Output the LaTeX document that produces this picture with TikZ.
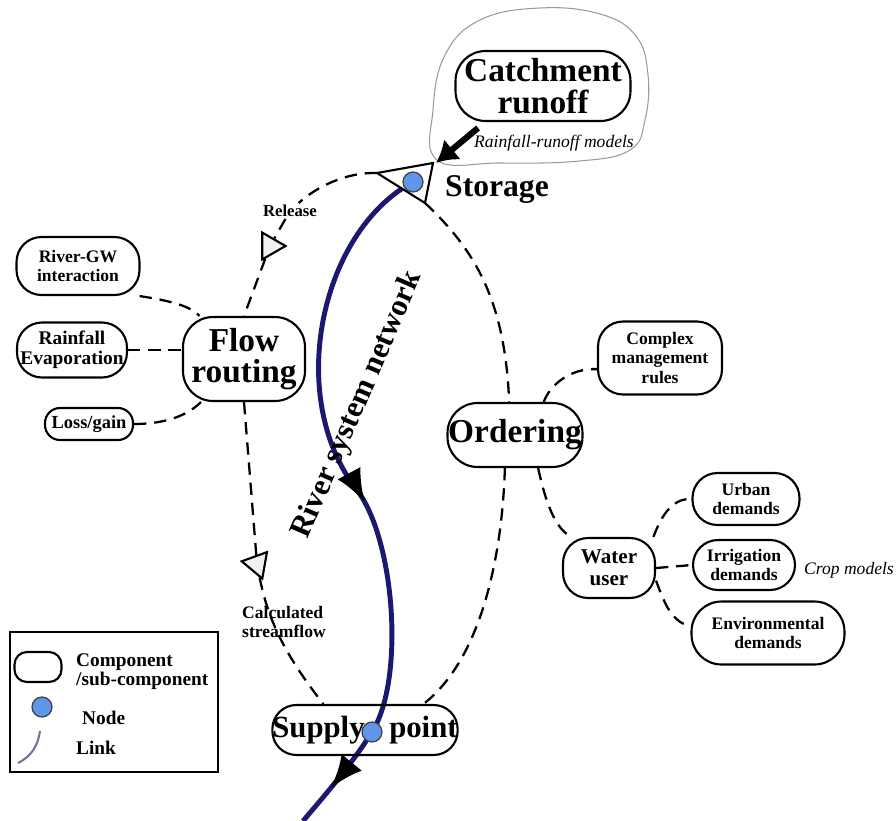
\documentclass[tikz,border=0pt]{standalone}
\usepackage{fontspec}
\setmainfont{Liberation Serif}
\usepackage{tikz}
\usetikzlibrary{arrows.meta, shapes.geometric, decorations.markings, backgrounds}
\definecolor{rivernavy}{RGB}{28,24,112}
\definecolor{nodeblue}{RGB}{96,150,232}
\definecolor{linkgray}{RGB}{120,112,160}
\definecolor{balloongray}{RGB}{155,155,155}

\begin{document}
\begin{tikzpicture}[x=0.02cm, y=-0.02cm,
    comp/.style={draw, line width=1.2pt, rounded corners=0.5cm, align=center, inner sep=0pt},
    bigtext/.style={font=\bfseries\fontsize{19}{18}\selectfont},
    smalltext/.style={font=\bfseries\fontsize{10}{11.3}\selectfont},
    dlink/.style={line width=1.3pt, dash pattern=on 7pt off 4.5pt},
    bluenode/.style={circle, fill=nodeblue, draw=black!75, line width=0.7pt, minimum size=0.4cm, inner sep=0pt},
    valve/.style={regular polygon, regular polygon sides=3, draw, fill=gray!12, line width=1.2pt, minimum size=0.62cm, inner sep=0pt},
    river/.style={draw=rivernavy, line width=2.8pt, postaction={decorate},
        decoration={markings,
            mark=at position 0.51 with {\arrow{Latex[length=19pt,width=15pt,black]}},
            mark=at position 0.94 with {\arrow{Latex[length=19pt,width=15pt,black]}}}}]
    \useasboundingbox (0,0) rectangle (896,821);

    % Components
    \node[comp, bigtext, minimum width=3.5cm, minimum height=1.4cm, rounded corners=0.6cm] (catch) at (543,86) {Catchment\\runoff};
    \node[comp, bigtext, minimum width=2.44cm, minimum height=1.68cm, rounded corners=0.6cm] (flow) at (244,359) {Flow\\routing};
    \node[comp, bigtext, minimum width=2.7cm, minimum height=1.28cm, rounded corners=0.6cm] (ord) at (515,435) {Ordering};
    \node[comp, font=\bfseries\fontsize{17.5}{18}\selectfont, minimum width=3.6cm, minimum height=1.0cm, rounded corners=0.48cm] (sup) at (365,730) {Supply\hspace{14pt}point};

    % Sub-components
    \node[comp, smalltext, minimum width=2.46cm, minimum height=1.16cm] (rgw) at (78,266) {River-GW\\interaction};
    \node[comp, font=\bfseries\fontsize{11}{11.5}\selectfont, minimum width=2.2cm, minimum height=1.1cm] (rain) at (72,350) {Rainfall\\Evaporation};
    \node[comp, font=\bfseries\fontsize{10.5}{11}\selectfont, minimum width=1.76cm, minimum height=0.64cm, rounded corners=0.3cm] (loss) at (89,424) {Loss/gain};
    \node[comp, smalltext, minimum width=2.48cm, minimum height=1.46cm] (cmr) at (660,358) {Complex\\management\\rules};
    \node[comp, font=\bfseries\fontsize{12}{12.3}\selectfont, minimum width=1.84cm, minimum height=1.2cm] (wu) at (609,568) {Water\\user};
    \node[comp, smalltext, minimum width=2.14cm, minimum height=1.04cm] (urb) at (746,499) {Urban\\demands};
    \node[comp, smalltext, minimum width=2.04cm, minimum height=1.0cm] (irr) at (744,565) {Irrigation\\demands};
    \node[comp, smalltext, minimum width=3.06cm, minimum height=1.26cm, rounded corners=0.6cm] (env) at (768,633) {Environmental\\demands};

    % Storage, nodes and valves
    \coordinate (stl) at (377,173);
    \coordinate (stb) at (425,203);
    \draw[line width=1.2pt, fill=white] (433,163) -- (377,173) -- (425,203) -- cycle;
    \node[bluenode] (stor) at (413,182) {};
    \node[bluenode] (supnd) at (372,732) {};
    \node[font=\bfseries\fontsize{18}{18}\selectfont, anchor=west] (storlbl) at (439,190) {Storage};
    \node[font=\bfseries\fontsize{9.5}{10}\selectfont, inner sep=1pt] (rel) at (290,211) {Release};
    \node[valve, shape border rotate=-90] (reltri) at (270,246) {};
    \node[valve, shape border rotate=80] (caltri) at (257,564) {};
    \node[smalltext, align=left] (calc) at (284,622) {Calculated\\streamflow};

    % Dashed links
    \draw[dlink] (stl) .. controls (345,172) and (315,188) .. (rel);
    \draw[dlink] (rel) -- (reltri);
    \draw[dlink] (reltri) -- (flow.north);
    \draw[dlink] (flow.south) -- (caltri);
    \draw[dlink] (caltri) .. controls (268,620) and (285,655) .. (sup.148);
    \draw[dlink] (stb) .. controls (475,250) and (505,300) .. (ord.100);
    \draw[dlink] (ord.-107) .. controls (502,560) and (480,660) .. (sup.24);
    \draw[dlink] (rgw.-26) .. controls (165,300) and (190,305) .. (flow.136);
    \draw[dlink] (rain.east) -- (rain.east -| flow.west);
    \draw[dlink] (loss.east) .. controls (160,424) and (185,418) .. (flow.-135);
    \draw[dlink] (ord.49) .. controls (550,385) and (570,368) .. (cmr.190);
    \draw[dlink] (ord.-55) .. controls (545,500) and (555,530) .. (wu.140);
    \draw[dlink] (wu.35) .. controls (660,520) and (670,498) .. (urb.west);
    \draw[dlink] (wu.east) -- (irr.west);
    \draw[dlink] (wu.-15) .. controls (665,605) and (672,622) .. (env.175);

    % River link
    \coordinate (rivend) at (303,821);
    \begin{pgfonlayer}{background}
        \draw[river] (stor.center) .. controls (320,232) and (285,398) .. (357,490)
            .. controls (395,540) and (405,680) .. (supnd.center)
            .. controls (352,764) and (325,795) .. (rivend);
    \end{pgfonlayer}
    \node[font=\bfseries\fontsize{17.5}{18}\selectfont, rotate=66.6] (rsn) at (358,405) {River system network};

    % Catchment runoff inflow
    \draw[balloongray, line width=0.6pt] plot[smooth cycle, tension=0.7] coordinates
        {(437,160) (433,110) (445,55) (480,20) (540,8) (600,14) (636,36) (648,75) (645,120) (630,150) (580,161) (500,163)};
    \coordinate (rrtail) at (478,128);
    \coordinate (stortip) at (436,163);
    \draw[line width=3.5pt, -{Latex[length=12pt,width=15pt]}] (rrtail) -- (stortip);
    \node[font=\itshape\fontsize{10}{10}\selectfont] (rrm) at (554,143) {Rainfall-runoff models};
    \node[font=\itshape\fontsize{10}{10}\selectfont] (crop) at (849,570) {Crop models};

    % Legend
    \draw[line width=0.8pt] (10,632) rectangle (218,772);
    \node[comp, minimum width=0.94cm, minimum height=0.6cm, rounded corners=0.25cm] (legcomp) at (38,667) {};
    \node[font=\bfseries\fontsize{11}{10.8}\selectfont, align=left, anchor=west] (legcomptxt) at (70,672) {Component\\/sub-component};
    \node[bluenode] (legnode) at (42,707) {};
    \node[font=\bfseries\fontsize{11}{11}\selectfont, anchor=west] (legnodetxt) at (76,718) {Node};
    \coordinate (legla) at (18,763);
    \coordinate (leglb) at (40,731);
    \draw[linkgray, line width=1.2pt] (legla) .. controls (32,756) and (38,745) .. (leglb);
    \node[font=\bfseries\fontsize{11}{11}\selectfont, anchor=west] (leglinktxt) at (70,748) {Link};
\end{tikzpicture}
\end{document}
